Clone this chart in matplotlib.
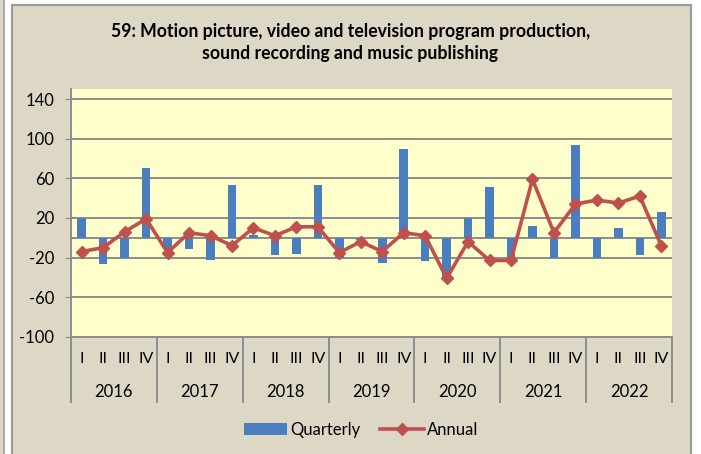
import numpy as np
import matplotlib.pyplot as plt
import matplotlib.transforms as mtransforms
from matplotlib.patches import Rectangle
from matplotlib.lines import Line2D

plt.rcParams['font.family'] = ['Lato', 'DejaVu Sans']

# Data
years = ['2016', '2017', '2018', '2019', '2020', '2021', '2022']
quarters = ['I', 'II', 'III', 'IV']
quarterly = [20, -27, -20, 70,
             -10, -11, -23, 53,
             3, -17, -16, 53,
             -21, -2, -26, 90,
             -24, -43, 20, 51,
             -20, 12, -21, 94,
             -20, 10, -17, 26]
annual = [-14, -10, 6, 19,
          -15, 5, 2, -8,
          10, 2, 11, 11,
          -15, -4, -14, 5,
          2, -41, -4, -23,
          -23, 59, 5, 34,
          38, 35, 42, -8]
yticks = [-100, -60, -20, 20, 60, 100, 140]

bar_color = '#4a7ebf'
line_color = '#c0504d'
grid_color = '#8c8c8c'
panel_color = '#ddd8c5'
plot_color = '#ffffcc'

fig = plt.figure(figsize=(7.01, 4.54), dpi=100)
fig.patch.set_facecolor('white')

# panel backgrounds
W, H = 701, 454
fig.add_artist(Rectangle((0, 0), 3 / W, 1, transform=fig.transFigure,
                         facecolor=panel_color, edgecolor='none', zorder=-2))
fig.add_artist(Line2D([3.5 / W, 3.5 / W], [0, 1], color='#9a9a9a', lw=1.2,
                      zorder=-1))
fig.add_artist(Rectangle((11.5 / W, -0.01), (691 - 11.5) / W, 1 - 4.5 / H + 0.01,
                         transform=fig.transFigure, facecolor=panel_color,
                         edgecolor='#9a9a9a', lw=1.5, zorder=-2))

ax = fig.add_axes([71 / W, 1 - 336.7 / H, (672 - 71) / W, (336.7 - 89.2) / H])
ax.set_zorder(1)
ax.set_facecolor(plot_color)

x = np.arange(len(quarterly))
bars = ax.bar(x, quarterly, width=0.4, color=bar_color, zorder=2, label='Quarterly')
line, = ax.plot(x, annual, color=line_color, lw=2.6, marker='D', ms=6,
                zorder=3, label='Annual')

ax.set_ylim(-100, 150)
ax.set_xlim(-0.5, len(quarterly) - 0.5)
ax.set_yticks(yticks)
ax.set_yticklabels([str(v) for v in yticks], fontsize=12)
for v in yticks:
    ax.axhline(v, color=grid_color, lw=1.4, zorder=1)
ax.axhline(0, color=grid_color, lw=1.4, zorder=1)

for side in ['top', 'right']:
    ax.spines[side].set_visible(False)
for side in ['left', 'bottom']:
    ax.spines[side].set_color(grid_color)
    ax.spines[side].set_linewidth(1.4)
ax.tick_params(axis='y', length=4, color=grid_color, pad=8)

ax.set_xticks(x)
ax.set_xticklabels(quarters * len(years), fontsize=11.5)
ax.tick_params(axis='x', length=0, pad=11)

# year labels and separators
trans = mtransforms.blended_transform_factory(ax.transData, ax.transAxes)
for i, yr in enumerate(years):
    ax.text(i * 4 + 1.5, -0.225, yr, transform=trans, ha='center', va='center',
            fontsize=12)
for i in range(len(years) + 1):
    ax.plot([i * 4 - 0.5, i * 4 - 0.5], [0, -0.263], transform=trans,
            color=grid_color, lw=1.4, clip_on=False)

fig.text(0.5, 1 - 31 / H, '59: Motion picture, video and television program production,',
         ha='center', va='center', fontsize=12.7, fontweight='bold')
fig.text(0.5, 1 - 53 / H, 'sound recording and music publishing',
         ha='center', va='center', fontsize=12.7, fontweight='bold')

leg = fig.legend([bars, line], ['Quarterly', 'Annual'], loc='center',
                 bbox_to_anchor=(0.515, 1 - 430 / H), ncol=2,
                 frameon=False, fontsize=12, handlelength=2.6, columnspacing=1.2,
                 handletextpad=0.2)

fig.savefig('out.png', dpi=100, facecolor=fig.get_facecolor())
